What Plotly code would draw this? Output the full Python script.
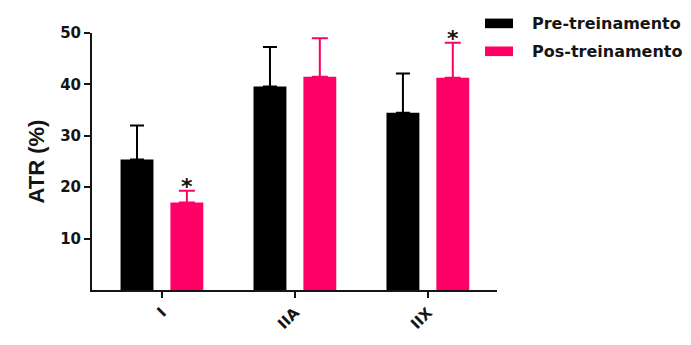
import plotly.graph_objects as go

# Fibre types and ATR (%) mean values with their SD (upper error only)
fibre_types = ["I", "IIA", "IIX"]
pre_mean = [25.4, 39.6, 34.5]
pre_sd = [6.6, 7.7, 7.6]
post_mean = [17.0, 41.5, 41.3]
post_sd = [2.3, 7.5, 6.8]
post_significant = [True, False, True]

series_names = ["Pre-treinamento", "Pos-treinamento"]
y_ticks = [10, 20, 30, 40, 50]

BLACK = "#000000"
PINK = "#FF0066"
INK = "#151515"
TICK_FONT = dict(family="DejaVu Sans", size=15, color=INK, weight="bold")

fig = go.Figure()
fig.add_trace(go.Bar(
    x=fibre_types, y=pre_mean, name=series_names[0],
    marker=dict(color=BLACK, line=dict(width=0)),
    error_y=dict(type="data", array=pre_sd, symmetric=False,
                 arrayminus=[0] * len(pre_sd),
                 color=BLACK, thickness=2, width=7),
))
fig.add_trace(go.Bar(
    x=fibre_types, y=post_mean, name=series_names[1],
    marker=dict(color=PINK, line=dict(width=0)),
    error_y=dict(type="data", array=post_sd, symmetric=False,
                 arrayminus=[0] * len(post_sd),
                 color=PINK, thickness=2, width=8),
))

# significance asterisks above the post-training error bars
for i, (cat, m, s, sig) in enumerate(zip(fibre_types, post_mean, post_sd, post_significant)):
    if sig:
        fig.add_annotation(
            x=i + 0.19, y=m + s, xref="x", yref="y",
            text="*", showarrow=False,
            font=dict(family="DejaVu Sans", size=22, color=INK, weight="bold"),
            yanchor="bottom", yshift=-10,
        )

# legend drawn as swatches + labels on the right
legend_items = [(series_names[0], BLACK, 23), (series_names[1], PINK, 52)]
for name, color, ypix in legend_items:
    fig.add_shape(type="rect", xref="paper", yref="paper",
                  x0=(485 - 92) / 405, x1=(513 - 92) / 405,
                  y0=(300 - ypix - 5) / 267, y1=(300 - ypix + 5) / 267,
                  fillcolor=color, line=dict(width=0))
    fig.add_annotation(xref="paper", yref="paper",
                       x=(530 - 92) / 405, y=(300 - ypix) / 267,
                       text=name, showarrow=False,
                       xanchor="left", yanchor="middle",
                       font=dict(family="DejaVu Sans", size=16, color=INK, weight="bold"))

fig.update_layout(
    width=691, height=345,
    margin=dict(l=92, r=194, t=33, b=45),
    paper_bgcolor="white", plot_bgcolor="white",
    barmode="group", bargap=0.25, bargroupgap=0.34,
    showlegend=False,
    font=dict(family="DejaVu Sans", color=INK),
)
fig.update_xaxes(
    range=[-0.526, 2.52], showgrid=False, zeroline=False,
    showline=True, linewidth=2, linecolor=INK,
    ticks="outside", ticklen=6, tickwidth=2, tickcolor=INK,
    tickangle=-45, tickfont=TICK_FONT,
)
fig.update_yaxes(
    range=[0, 50], tickvals=y_ticks, showgrid=False, zeroline=False,
    showline=True, linewidth=2, linecolor=INK,
    ticks="outside", ticklen=6, tickwidth=2, tickcolor=INK,
    tickfont=TICK_FONT,
    title=dict(text="ATR (%)", standoff=9,
               font=dict(family="Liberation Sans", size=22, color=INK, weight="bold")),
)

fig.write_html("out.html")
